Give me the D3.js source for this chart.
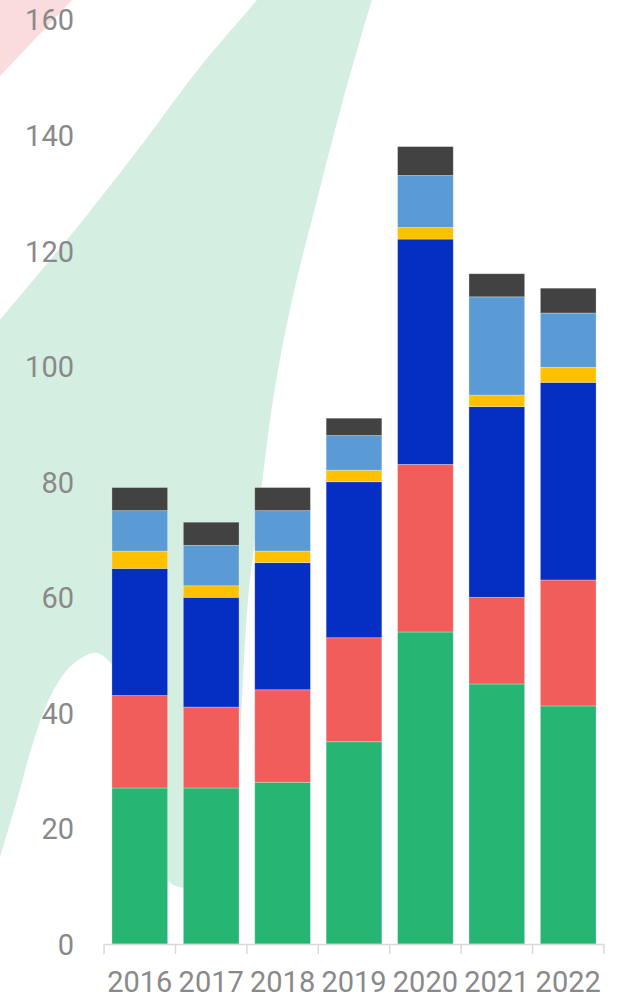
<!DOCTYPE html>
<html>
<head>
<meta charset="utf-8">
<script src="https://cdn.jsdelivr.net/npm/d3@7/dist/d3.min.js"></script>
<style>
  html, body { margin: 0; padding: 0; background: #fff; }
  svg { display: block; }
</style>
</head>
<body>
<svg id="chart" width="621" height="1000"></svg>
<script>
// ---- data ----
const years = ["2016", "2017", "2018", "2019", "2020", "2021", "2022"];
const seriesNames = ["s1", "s2", "s3", "s4", "s5", "s6"];
const s1 = [27, 27, 28, 35, 54, 45, 41.2];   // green
const s2 = [16, 14, 16, 18, 29, 15, 21.8];   // red
const s3 = [22, 19, 22, 27, 39, 33, 34.2];   // dark blue
const s4 = [3, 2, 2, 2, 2, 2, 2.6];          // yellow
const s5 = [7, 7, 7, 6, 9, 17, 9.4];         // light blue
const s6 = [4, 4, 4, 3, 5, 4, 4.3];          // dark gray
const yTicks = [0, 20, 40, 60, 80, 100, 120, 140, 160];
const colors = ["#27B574", "#F05D5B", "#052EC2", "#FFC000", "#5B9BD5", "#424242"];

const svg = d3.select("#chart");

// ---- decorative background ----
const deco = svg.append("g");
deco.append("path")
  .attr("d", "M0,0 L72,0 L0,76 Z")
  .attr("fill", "#FBDCDC");

const cr = d3.line().curve(d3.curveCatmullRom.alpha(0.5));
const rightEdge = [[376,-12],[372,0],[343,100],[317,200],[292,300],[273,400],[260,500],[248,600],[242,700],[238,800],[234,882]];
const bottom = [[234,882],[215,890],[190,889],[168,881],[148,822],[130,730],[114,668],[97,653],[83,657],[67,670],[50,697],[33,743],[17,800],[0,857],[-10,890]];
const leftEdge = [[-12,335],[0,320],[83,220],[143,143],[200,67],[257,0],[266,-12]];
const dStr = cr(rightEdge) + cr(bottom).replace(/^M/, "L") + "L-12,890L-12,335" + cr(leftEdge).replace(/^M/, "L") + "Z";
deco.append("path").attr("d", dStr).attr("fill", "#D4EEE2");

// ---- scales ----
const x = d3.scaleBand().domain(years).range([103, 605]).paddingInner(0.22).paddingOuter(0.125);
const y = d3.scaleLinear().domain([0, 160]).range([944, 19.5]);

// ---- stack ----
const rows = years.map((yr, i) => ({ year: yr, s1: s1[i], s2: s2[i], s3: s3[i], s4: s4[i], s5: s5[i], s6: s6[i] }));
const stacked = d3.stack().keys(seriesNames)(rows);

svg.append("g").selectAll("g")
  .data(stacked)
  .join("g")
  .attr("fill", (d, i) => colors[i])
  .selectAll("rect")
  .data(d => d)
  .join("rect")
  .attr("x", d => x(d.data.year))
  .attr("width", x.bandwidth())
  .attr("y", d => y(d[1]))
  .attr("height", d => y(d[0]) - y(d[1]))
  .attr("stroke", "rgba(255,255,255,0.35)")
  .attr("stroke-width", 0.8);

// ---- y axis labels ----
const yAxis = d3.axisLeft(y).tickValues(yTicks).tickSize(0).tickPadding(0);
const yg = svg.append("g").attr("transform", "translate(74,0)").call(yAxis);
yg.select(".domain").remove();
yg.selectAll("text")
  .attr("fill", "#898989")
  .style("font-family", "Roboto, 'Open Sans', sans-serif")
  .style("font-size", "29px")
  .attr("dy", "0.36em");

// ---- x axis ----
const step = x.step();
const gap = step - x.bandwidth();
const boundaries = years.map(d => x(d) - gap / 2).concat([x(years[years.length - 1]) + x.bandwidth() + gap / 2]);
const xg = svg.append("g");
xg.append("line")
  .attr("x1", boundaries[0]).attr("x2", boundaries[boundaries.length - 1])
  .attr("y1", y(0) + 0.5).attr("y2", y(0) + 0.5)
  .attr("stroke", "#D9D9D9").attr("stroke-width", 1.5);
xg.selectAll("line.tick")
  .data(boundaries)
  .join("line")
  .attr("class", "tick")
  .attr("x1", d => d).attr("x2", d => d)
  .attr("y1", y(0)).attr("y2", y(0) + 10)
  .attr("stroke", "#D9D9D9").attr("stroke-width", 1.5);
xg.selectAll("text")
  .data(years)
  .join("text")
  .attr("x", d => x(d) + x.bandwidth() / 2)
  .attr("y", 992)
  .attr("text-anchor", "middle")
  .attr("fill", "#898989")
  .style("font-family", "Roboto, 'Open Sans', sans-serif")
  .style("font-size", "29px")
  .text(d => d);
</script>
</body>
</html>
